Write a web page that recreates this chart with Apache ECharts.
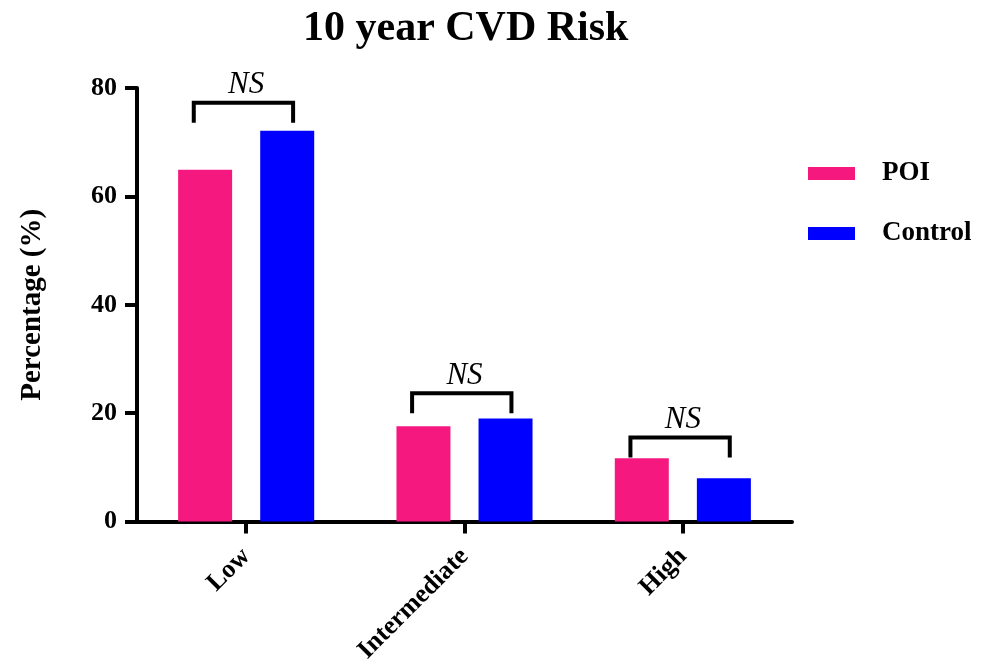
<!DOCTYPE html>
<html>
<head>
<meta charset="utf-8">
<script src="https://cdn.jsdelivr.net/npm/echarts@6/dist/echarts.min.js"></script>
<style>html,body{margin:0;padding:0;background:#fff;}#c{width:987px;height:666px;}</style>
</head>
<body>
<div id="c"></div>
<script>
var categories = ['Low', 'Intermediate', 'High'];
var poiValues = [64.9, 17.6, 11.7];
var controlValues = [72.1, 19.0, 8.0];
var bracketLevels = [77.3, 23.7, 15.5];
var bracketLabels = ['NS', 'NS', 'NS'];
var yTicks = [0, 20, 40, 60, 80];

var FONT = '"Liberation Serif", "Times New Roman", serif';
var chart = echarts.init(document.getElementById('c'));
var bracketData = categories.map(function (c, i) { return [i, bracketLevels[i], bracketLabels[i]]; });

chart.setOption({
  animation: false,
  backgroundColor: '#fff',
  title: {
    text: '10 year CVD Risk', left: 298, top: 3,
    textStyle: { fontFamily: FONT, fontWeight: 'bold', fontSize: 42, color: '#000' }
  },
  legend: {
    orient: 'vertical', left: 803, top: 155, itemWidth: 47, itemHeight: 13, itemGap: 33,
    icon: 'rect',
    data: ['POI', 'Control'],
    textStyle: { fontFamily: FONT, fontWeight: 'bold', fontSize: 27, color: '#000', padding: [0, 0, 0, 22] }
  },
  grid: { left: 137, right: 195, top: 88, bottom: 144 },
  xAxis: {
    type: 'category', data: categories,
    axisLine: { lineStyle: { color: '#000', width: 4 } },
    axisTick: { show: true, interval: 0, alignWithLabel: true, length: 12, lineStyle: { color: '#000', width: 4 } },
    axisLabel: { rotate: 45, interval: 0, margin: 31, fontFamily: FONT, fontWeight: 'bold', fontSize: 26, color: '#000' }
  },
  yAxis: {
    type: 'value', min: 0, max: 80, interval: 20,
    name: 'Percentage (%)', nameLocation: 'middle', nameGap: 90, nameRotate: 90,
    nameTextStyle: { fontFamily: FONT, fontWeight: 'bold', fontSize: 29, color: '#000' },
    splitLine: { show: false },
    axisLine: { show: true, lineStyle: { color: '#000', width: 4 } },
    axisTick: { show: true, length: 12, lineStyle: { color: '#000', width: 4 } },
    axisLabel: { margin: 20, fontFamily: FONT, fontWeight: 'bold', fontSize: 26, color: '#000',
      formatter: function (v) { return yTicks.indexOf(v) >= 0 ? String(v) : ''; } }
  },
  series: [
    { name: 'POI', type: 'bar', data: poiValues, barWidth: 54, barGap: '52%',
      itemStyle: { color: '#F5187F' } },
    { name: 'Control', type: 'bar', data: controlValues, barWidth: 54,
      itemStyle: { color: '#0000FF' } },
    { type: 'custom', name: 'brackets', data: bracketData, z: 10, silent: true,
      renderItem: function (params, api) {
        var p = api.coord([api.value(0), api.value(1)]);
        var band = api.size([1, 0])[0];
        var l = p[0] - band * 0.24, r = p[0] + band * 0.215;
        var y = p[1], leg = 20;
        return { type: 'group', children: [
          { type: 'polyline', shape: { points: [[l, y + leg], [l, y], [r, y], [r, y + leg]] },
            style: { stroke: '#000', lineWidth: 4, fill: null } },
          { type: 'text', style: { text: bracketLabels[params.dataIndex], x: p[0], y: y - 2,
            textAlign: 'center', textVerticalAlign: 'bottom',
            font: 'italic 31px ' + FONT, fill: '#000' } }
        ] };
      } }
  ]
});
</script>
</body>
</html>
